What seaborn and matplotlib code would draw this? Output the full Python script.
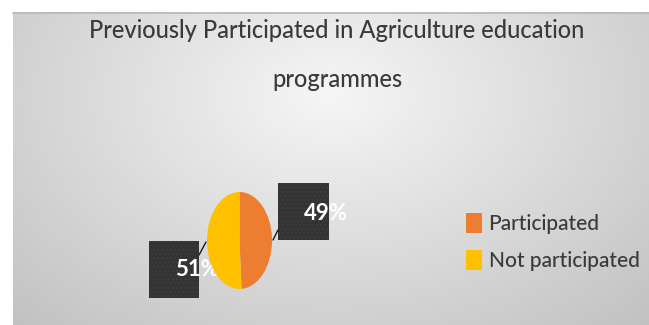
import numpy as np
import matplotlib
matplotlib.use("Agg")
import matplotlib.pyplot as plt
from matplotlib.patches import Rectangle
import seaborn as sns

categories = ["Participated", "Not participated"]
values = [49, 51]
label_texts = ["49%", "51%"]
title_lines = ["Previously Participated in Agriculture education", "programmes"]

sns.set_style("white")
plt.rcParams['font.family'] = ['Lato', 'DejaVu Sans']
colors = sns.color_palette(["#ED7D31", "#FFC000"])

W, H = 649, 325
fig = plt.figure(figsize=(W / 100, H / 100), dpi=100)
fig.patch.set_facecolor("white")

# overlay axes in pixel coordinates
ax0 = fig.add_axes([0, 0, 1, 1])
ax0.set_xlim(0, W)
ax0.set_ylim(H, 0)
ax0.axis("off")

# gradient panel background
px0, py0 = 13, 12
xs = np.arange(px0, W)
ys = np.arange(py0, H)
X, Y = np.meshgrid(xs, ys)
d = np.sqrt(((X - 330) / 380.0) ** 2 + ((Y - 95) / 260.0) ** 2)
g = np.clip(0.965 - 0.17 * d, 0.76, 1.0)
img = np.dstack([g, g, g])
ax0.imshow(img, extent=[px0, W, H, py0], aspect="auto", zorder=0, interpolation="bilinear")
ax0.plot([px0, W], [py0 + 0.5, py0 + 0.5], color="#b8b8b8", lw=1.2, zorder=1)

# clipped document heading at very top (only descenders visible)
fig.text(141 / W, 1.0 + 11 / H, "programmes", family=["Liberation Serif", "DejaVu Serif"],
         fontweight="bold", fontsize=22, color="black", va="baseline", ha="left")

# title (two lines)
for line, yb in zip(title_lines, [38, 87]):
    ax0.text(337, yb, line, ha="center", va="baseline", fontsize=17, color="#3a3a3a",
             fontweight="medium", zorder=3)

# pie (elliptical)
pl, pr, pt, pb = 207, 272, 192, 289
axp = fig.add_axes([pl / W, (H - pb) / H, (pr - pl) / W, (pb - pt) / H])
wedges, _ = axp.pie(values, colors=colors, startangle=90, counterclock=False, radius=1,
                    wedgeprops=dict(linewidth=0))
axp.set_aspect("auto")
axp.set_xlim(-1, 1)
axp.set_ylim(-1, 1)
axp.axis("off")

# data label boxes
boxes = [(278, 183, 51, 57), (149, 241, 50, 57)]
text_pos = [(326, 214), (197, 270)]
leaders = [((273, 240), (278, 230)), ((199, 255), (206, 242))]
for (bx, by, bw, bh), (tx, ty), ((x1, y1), (x2, y2)), t in zip(boxes, text_pos, leaders, label_texts):
    ax0.add_patch(Rectangle((bx, by), bw, bh, facecolor="#333333", edgecolor="#3c3c3c",
                            hatch="....", lw=0, zorder=4))
    ax0.plot([x1, x2], [y1, y2], color="#1a1a1a", lw=1.0, zorder=4)
    ax0.text(tx, ty, t, ha="center", va="center", color="white", fontsize=16,
             fontweight="bold", zorder=5)

# legend
leg = fig.legend(wedges, categories, loc="upper left", bbox_to_anchor=(451 / W, 1 - 198 / H),
                 frameon=False, fontsize=15, handlelength=0.8, handleheight=1.15,
                 handletextpad=0.3, labelspacing=0.75, borderpad=0.2)
for txt in leg.get_texts():
    txt.set_color("#3a3a3a")
    txt.set_fontweight("medium")

fig.savefig("out.png", dpi=100)
